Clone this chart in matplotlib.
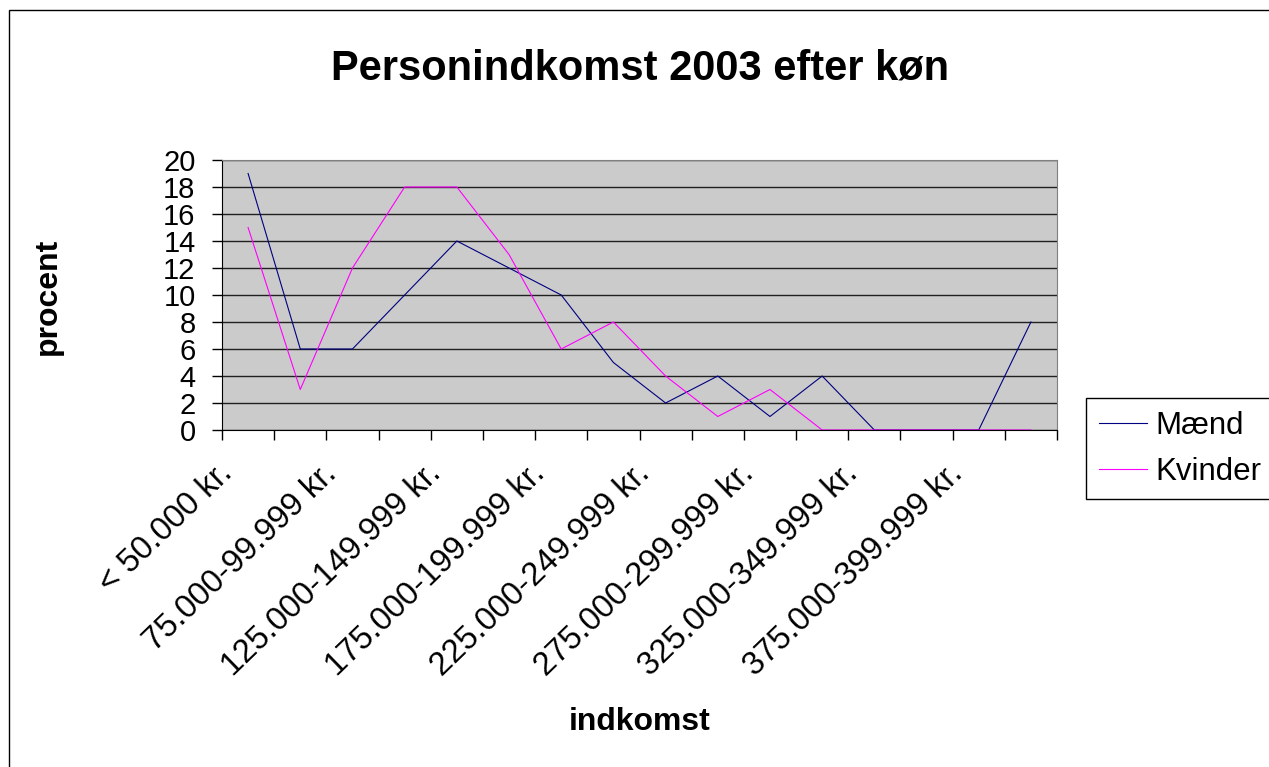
import numpy as np
import matplotlib
matplotlib.use('Agg')
import matplotlib.pyplot as plt
from matplotlib.patches import Rectangle
from matplotlib.transforms import ScaledTranslation

plt.rcParams['font.family'] = ['Liberation Sans', 'DejaVu Sans']

# income groups (only every second one is labelled in the chart)
kategorier = ['< 50.000 kr.', '50.000-74.999 kr.', '75.000-99.999 kr.',
              '100.000-124.999 kr.', '125.000-149.999 kr.', '150.000-174.999 kr.',
              '175.000-199.999 kr.', '200.000-224.999 kr.', '225.000-249.999 kr.',
              '250.000-274.999 kr.', '275.000-299.999 kr.', '300.000-324.999 kr.',
              '325.000-349.999 kr.', '350.000-374.999 kr.', '375.000-399.999 kr.',
              '> 400.000 kr.']
maend = [19, 6, 6, 10, 14, 12, 10, 5, 2, 4, 1, 4, 0, 0, 0, 8]
kvinder = [15, 3, 12, 18, 18, 13, 6, 8, 4, 1, 3, 0, 0, 0, 0, 0]

W, H = 1269, 767
fig = plt.figure(figsize=(W / 100, H / 100), dpi=100)
ax = fig.add_axes([222 / W, 1 - 430 / H, 835 / W, 270 / H])
ax.set_facecolor('#cbcbcb')

x = list(range(len(kategorier)))
ax.plot(x, maend, color='#000080', lw=0.8, label='Mænd')
ax.plot(x, kvinder, color='#ff00ff', lw=0.8, label='Kvinder')

ax.set_xlim(-0.5, len(kategorier) - 0.5)
ax.set_ylim(0, 20)
ax.set_yticks(range(0, 21, 2))
ax.yaxis.grid(True, color='#202020', lw=1)
ax.set_axisbelow(True)

# labels at category centres, tick marks between categories
vis = [k if i % 2 == 0 else '' for i, k in enumerate(kategorier)]
ax.set_xticks(x, vis, rotation=44, ha='right')
ax.set_xticks(np.arange(-0.5, len(kategorier)), minor=True)
ax.tick_params(axis='x', which='major', length=0, pad=20, labelsize=23.5)
ax.tick_params(axis='x', which='minor', length=7, width=1, color='black')
ax.tick_params(axis='y', length=7, width=1, pad=12, labelsize=21)
off = ScaledTranslation(-10 / 100, 0, fig.dpi_scale_trans)
for lab in ax.get_xticklabels():
    lab.set_transform(lab.get_transform() + off)

ax.spines['left'].set_color('black')
ax.spines['bottom'].set_color('black')
ax.spines['top'].set_color('#808080')
ax.spines['right'].set_color('#808080')

fig.text(640 / W, 1 - 68 / H, 'Personindkomst 2003 efter køn', ha='center', va='center',
         fontsize=30, fontweight='bold')
fig.text(48 / W, 1 - 296 / H, 'procent', ha='center', va='center', rotation=90,
         fontsize=23, fontweight='bold')
fig.text(640 / W, 1 - 722 / H, 'indkomst', ha='center', va='center',
         fontsize=23, fontweight='bold')

leg = fig.legend(loc='upper left', bbox_to_anchor=(1086 / W, 1 - 398 / H), fontsize=22.5,
                 fancybox=False, edgecolor='black', framealpha=1, borderpad=0.4,
                 borderaxespad=0, handlelength=1.54, handletextpad=0.29, labelspacing=0.52)
leg.get_frame().set_linewidth(1)

# outer chart border (right and bottom fall outside the picture)
fig.add_artist(Rectangle((9 / W, -0.1), 1.2, 1.1 - 10 / H, transform=fig.transFigure,
                         fill=False, ec='black', lw=1))

fig.savefig('out.png', dpi=100)
